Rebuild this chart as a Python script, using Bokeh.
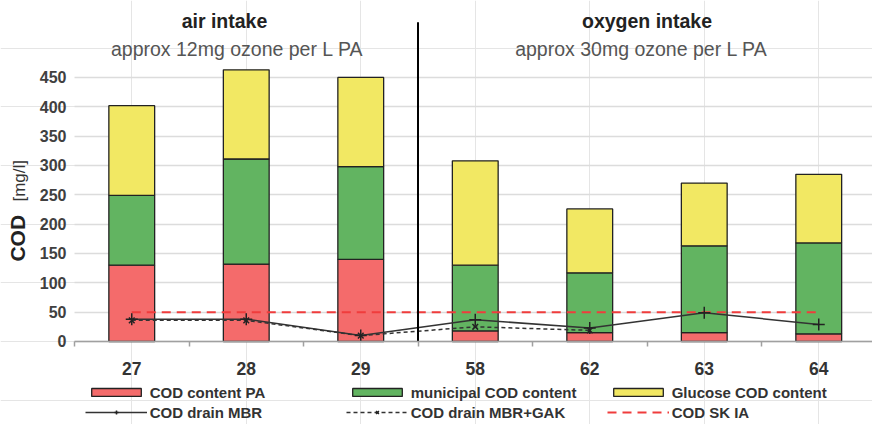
from bokeh.plotting import figure
from bokeh.models import (ColumnDataSource, Range1d, FixedTicker, Legend,
                          LegendItem, Label, LinearAxis, Grid)
from bokeh.embed import file_html
from bokeh.resources import INLINE
import math

# ---------------- data ----------------
categories = ["27", "28", "29", "58", "62", "63", "64"]
cod_pa = [130, 132, 140, 18, 15, 15, 13]
cod_municipal = [119, 179, 158, 112, 102, 148, 155]
cod_glucose = [153, 152, 152, 178, 109, 107, 117]
drain_mbr = [38, 38, 10, 37, 23, 49, 29]
drain_mbr_gak = [36, 36, 10, 25, 19]
cod_sk_ia = [50, 50, 50, 50, 50, 50, 50]
group_sizes = [3, 4]
group_titles = ["air intake", "oxygen intake"]
group_subtitles = ["approx 12mg ozone per L PA", "approx 30mg ozone per L PA"]
y_ticks = [0, 50, 100, 150, 200, 250, 300, 350, 400, 450]
y_label_main = "COD"
y_label_unit = "[mg/l]"

FONT = "Liberation Sans"
x = list(range(len(categories)))

W, H = 872, 424
X0, X1 = -1.1463, 6.4694          # whole canvas is the frame
Y0, Y1 = -141.5, 581.2
x_first = -0.5                     # left edge of the category area

p = figure(width=W, height=H, output_backend="svg", toolbar_location=None,
           x_range=Range1d(X0, X1), y_range=Range1d(Y0, Y1),
           x_axis_location=None, y_axis_location=None,
           min_border_left=0, min_border_right=0, min_border_top=0,
           min_border_bottom=0)
p.outline_line_color = None
p.background_fill_color = "white"

# y axis (drawn at the left edge of the category area)
yaxis = LinearAxis(fixed_location=x_first, ticker=FixedTicker(ticks=y_ticks),
                   axis_line_color=None, major_tick_line_color=None,
                   minor_tick_line_color=None, major_tick_out=0, major_tick_in=0,
                   major_label_standoff=8, major_label_text_font=FONT,
                   major_label_text_font_style="bold", major_label_text_font_size="16px",
                   major_label_text_color="#404040")
p.add_layout(yaxis, "left")

# horizontal grid
ygrid = Grid(dimension=1, ticker=FixedTicker(ticks=y_ticks),
             grid_line_color="#dcdcdc", grid_line_width=1.5)
has_cross = "cross_bounds" in Grid.properties()
if has_cross:
    ygrid.cross_bounds = (x_first, X1)
p.add_layout(ygrid)
if not has_cross:
    p.quad(left=[X0], right=[x_first], bottom=[-5], top=[470],
           fill_color="white", line_color=None)

# x axis at y = 0
xaxis = LinearAxis(fixed_location=0,
                   ticker=FixedTicker(ticks=x, minor_ticks=[i - 0.5 for i in range(len(categories) + 1)]),
                   bounds=(x_first, X1),
                   major_label_overrides={i: c for i, c in enumerate(categories)},
                   axis_line_color="#a0a0a0", axis_line_width=1.5,
                   major_tick_line_color=None, major_tick_out=0, major_tick_in=0,
                   minor_tick_line_color="#a0a0a0", minor_tick_line_width=1.5,
                   minor_tick_out=5, minor_tick_in=0,
                   major_label_standoff=16, major_label_text_font=FONT,
                   major_label_text_font_style="bold", major_label_text_font_size="17.5px",
                   major_label_text_color="#333333")
p.add_layout(xaxis, "below")

# stacked bars
src = ColumnDataSource(dict(x=x, pa=cod_pa, mun=cod_municipal, glu=cod_glucose))
bars = p.vbar_stack(["pa", "mun", "glu"], x="x", width=0.4, source=src,
                    fill_color=["#F46B6B", "#62B461", "#F2E863"],
                    line_color="#222222", line_width=1.3)

# lines
l_sk = p.line(x[:len(cod_sk_ia)], cod_sk_ia, line_color="#F03C3C", line_width=2,
              line_dash="9 6")
l_gak = p.line(x[:len(drain_mbr_gak)], drain_mbr_gak, line_color="#333333",
               line_width=1.5, line_dash="4 3")
s_gak = p.scatter(x[:len(drain_mbr_gak)], drain_mbr_gak, marker="x", size=8,
                  line_color="#222222", line_width=1.5)
l_mbr = p.line(x[:len(drain_mbr)], drain_mbr, line_color="#333333", line_width=1.5)
s_mbr = p.scatter(x[:len(drain_mbr)], drain_mbr, marker="cross", size=12,
                  line_color="#222222", line_width=1.5)

# group separator
x_sep = group_sizes[0] - 0.5
p.segment(x0=[x_sep], y0=[0], x1=[x_sep], y1=[544], line_color="black", line_width=2)

# group titles
title_x = [0.81, 4.50]
sub_x = [0.92, 4.45]
for tx, sx, t, s in zip(title_x, sub_x, group_titles, group_subtitles):
    p.add_layout(Label(x=tx, y=547, text=t, text_align="center", text_baseline="middle",
                       text_font=FONT, text_font_style="bold", text_font_size="19.5px",
                       text_color="#222222"))
    p.add_layout(Label(x=sx, y=498, text=s, text_align="center", text_baseline="middle",
                       text_font=FONT, text_font_size="19.5px", text_color="#555555"))

# y axis title in two styles
p.add_layout(Label(x=-0.998, y=176, text=y_label_main, angle=math.pi / 2,
                   text_align="center", text_baseline="middle", text_font=FONT,
                   text_font_style="bold", text_font_size="21px", text_color="#222222"))
p.add_layout(Label(x=-0.98, y=274, text=y_label_unit, angle=math.pi / 2,
                   text_align="center", text_baseline="middle", text_font=FONT,
                   text_font_size="17px", text_color="#333333"))

items = [
    LegendItem(label="COD content PA", renderers=[bars[0]]),
    LegendItem(label="municipal COD content", renderers=[bars[1]]),
    LegendItem(label="Glucose COD content", renderers=[bars[2]]),
    LegendItem(label="COD drain MBR", renderers=[l_mbr, s_mbr]),
    LegendItem(label="COD drain MBR+GAK", renderers=[l_gak, s_gak]),
    LegendItem(label="COD SK IA", renderers=[l_sk]),
]
legend = Legend(items=items, location=(84.7, 2), orientation="horizontal", ncols=3,
                glyph_width=62, glyph_height=10, label_width=196, label_height=20,
                label_standoff=3, spacing=0, padding=0, margin=0,
                border_line_color=None, background_fill_alpha=0,
                label_text_font=FONT, label_text_font_style="bold",
                label_text_font_size="15px", label_text_color="#333333",
                label_text_baseline="middle")
p.add_layout(legend)

open("out.html", "w").write(file_html(p, INLINE))
